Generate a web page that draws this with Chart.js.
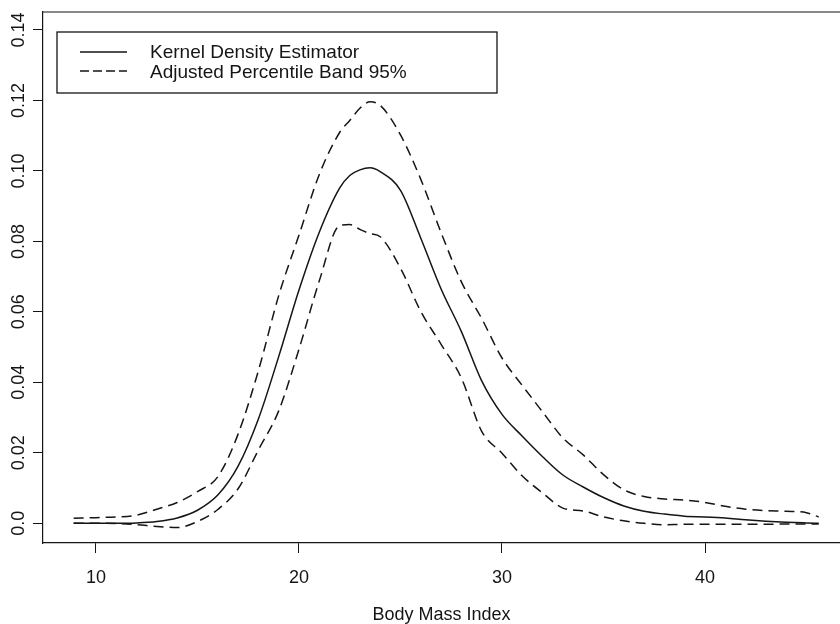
<!DOCTYPE html>
<html>
<head>
<meta charset="utf-8">
<script src="https://cdn.jsdelivr.net/npm/chart.js@4/dist/chart.umd.min.js"></script>
<style>
  html, body { margin: 0; padding: 0; background: #fff; }
  canvas { display: block; }
</style>
</head>
<body>
<canvas id="bmi-density-chart" width="840" height="624"></canvas>
<script>
// values
const bmi = [8.9, 10, 11, 12, 13, 14, 15, 16, 17, 18, 19, 20, 21, 22, 22.5, 23, 23.5, 24, 25, 26,
  27, 28, 29, 30, 31, 32, 33, 34, 35, 36, 37, 38, 39, 40, 41, 42, 43, 44, 45, 45.6];

const kdeData = [0, 0, 0, 0.0001, 0.0005, 0.0015, 0.0037, 0.0080, 0.0162, 0.0296, 0.0473, 0.0662,
  0.0826, 0.0951, 0.0987, 0.1003, 0.1009, 0.0998, 0.0945, 0.0809, 0.0665, 0.0544, 0.0404, 0.0309,
  0.0247, 0.0189, 0.0137, 0.0103, 0.0073, 0.0049, 0.0034, 0.0026, 0.0020, 0.0018, 0.0015, 0.0010,
  0.0006, 0.0003, 0.0001, 0.0000];

const upperBand = [0.0014, 0.0016, 0.0018, 0.0023, 0.0040, 0.0059, 0.0090, 0.0132, 0.0253, 0.0433,
  0.0646, 0.0818, 0.0990, 0.1109, 0.1143, 0.1178, 0.1196, 0.1186, 0.1102, 0.0976, 0.0825, 0.0685,
  0.0581, 0.0469, 0.0391, 0.0316, 0.0242, 0.0194, 0.0138, 0.0095, 0.0076, 0.0069, 0.0066, 0.0059,
  0.0048, 0.0040, 0.0036, 0.0034, 0.0030, 0.0018];

const lowerBand = [0.0000, 0.0000, -0.0001, -0.0004, -0.0009, -0.0012, 0.0005, 0.0039, 0.0098, 0.0208,
  0.0319, 0.0494, 0.0688, 0.0845, 0.0848, 0.0834, 0.0822, 0.0813, 0.0724, 0.0601, 0.0508, 0.0412,
  0.0261, 0.0199, 0.0134, 0.0086, 0.0043, 0.0035, 0.0018, 0.0007, 0.0000, -0.0004, -0.0003, -0.0003,
  -0.0003, -0.0003, -0.0003, -0.0002, -0.0002, -0.0002];

const xTicks = [10, 20, 30, 40];
const yTicks = [0, 0.02, 0.04, 0.06, 0.08, 0.10, 0.12, 0.14];
const yTickLabels = ['0.0', '0.02', '0.04', '0.06', '0.08', '0.10', '0.12', '0.14'];
const xTitle = 'Body Mass Index';
const legendLabels = ['Kernel Density Estimator', 'Adjusted Percentile Band 95%'];

const ink = '#151515';
const fontFamily = "'Liberation Sans', Arial, Helvetica, sans-serif";

function toPoints(values) {
  return values.map((v, i) => ({ x: bmi[i], y: v }));
}

// top edge of the box, rotated y labels (R style) and the boxed legend
const rStylePlot = {
  id: 'rStylePlot',
  afterDraw(chart) {
    const ctx = chart.ctx;
    const area = chart.chartArea;
    const yScale = chart.scales.y;
    ctx.save();

    ctx.strokeStyle = ink;
    ctx.lineWidth = 1.2;
    ctx.beginPath();
    ctx.moveTo(area.left, area.top);
    ctx.lineTo(area.right, area.top);
    ctx.stroke();

    ctx.fillStyle = ink;
    ctx.font = '18px ' + fontFamily;
    ctx.textAlign = 'center';
    ctx.textBaseline = 'middle';
    yTicks.forEach((v, i) => {
      ctx.save();
      ctx.translate(19, yScale.getPixelForValue(v));
      ctx.rotate(-Math.PI / 2);
      ctx.fillText(yTickLabels[i], 0, 0);
      ctx.restore();
    });

    // legend box
    ctx.fillStyle = '#fff';
    ctx.fillRect(57, 32, 440, 61);
    ctx.strokeStyle = ink;
    ctx.lineWidth = 1.3;
    ctx.strokeRect(57, 32, 440, 61);

    ctx.lineWidth = 1.4;
    ctx.beginPath();
    ctx.moveTo(80, 52);
    ctx.lineTo(127, 52);
    ctx.stroke();
    ctx.setLineDash([9, 4]);
    ctx.beginPath();
    ctx.moveTo(80, 71);
    ctx.lineTo(127, 71);
    ctx.stroke();
    ctx.setLineDash([]);

    ctx.fillStyle = ink;
    ctx.font = '19px ' + fontFamily;
    ctx.textAlign = 'left';
    ctx.fillText(legendLabels[0], 150, 53);
    ctx.fillText(legendLabels[1], 150, 73);
    ctx.restore();
  }
};

const data = {
  datasets: [{
    label: legendLabels[0],
    data: toPoints(kdeData),
    borderColor: ink,
    borderWidth: 1.5
  }, {
    label: legendLabels[1],
    data: toPoints(upperBand),
    borderColor: ink,
    borderWidth: 1.5,
    borderDash: [10, 6]
  }, {
    label: legendLabels[1],
    data: toPoints(lowerBand),
    borderColor: ink,
    borderWidth: 1.5,
    borderDash: [10, 6]
  }]
};

const config = {
  type: 'line',
  data: data,
  options: {
    responsive: false,
    animation: false,
    layout: {
      padding: { top: 12, right: 0, bottom: 0, left: 0 }
    },
    elements: {
      point: { radius: 0 },
      line: { cubicInterpolationMode: 'monotone', fill: false }
    },
    plugins: {
      legend: { display: false },
      tooltip: { enabled: false }
    },
    scales: {
      x: {
        type: 'linear',
        min: 7.39,
        max: 46.65,
        afterBuildTicks: scale => { scale.ticks = xTicks.map(v => ({ value: v })); },
        afterFit: scale => { scale.height = 81; },
        border: { display: true, color: ink, width: 1.2 },
        grid: {
          drawOnChartArea: false,
          drawTicks: true,
          tickLength: 10,
          color: ink
        },
        ticks: {
          color: ink,
          padding: 14,
          maxRotation: 0,
          font: { family: fontFamily, size: 18 }
        },
        title: {
          display: true,
          text: xTitle,
          color: ink,
          padding: { top: 0, bottom: -2 },
          font: { family: fontFamily, size: 18 }
        }
      },
      y: {
        type: 'linear',
        min: -0.0056,
        max: 0.1451,
        afterBuildTicks: scale => { scale.ticks = yTicks.map(v => ({ value: v })); },
        afterFit: scale => { scale.width = 43; },
        border: { display: true, color: ink, width: 1.2 },
        grid: {
          drawOnChartArea: false,
          drawTicks: true,
          tickLength: 10,
          color: ink
        },
        ticks: { display: false }
      }
    }
  },
  plugins: [rStylePlot]
};

const bmiDensityChart = new Chart(
  document.getElementById('bmi-density-chart'),
  config
);
</script>
</body>
</html>
